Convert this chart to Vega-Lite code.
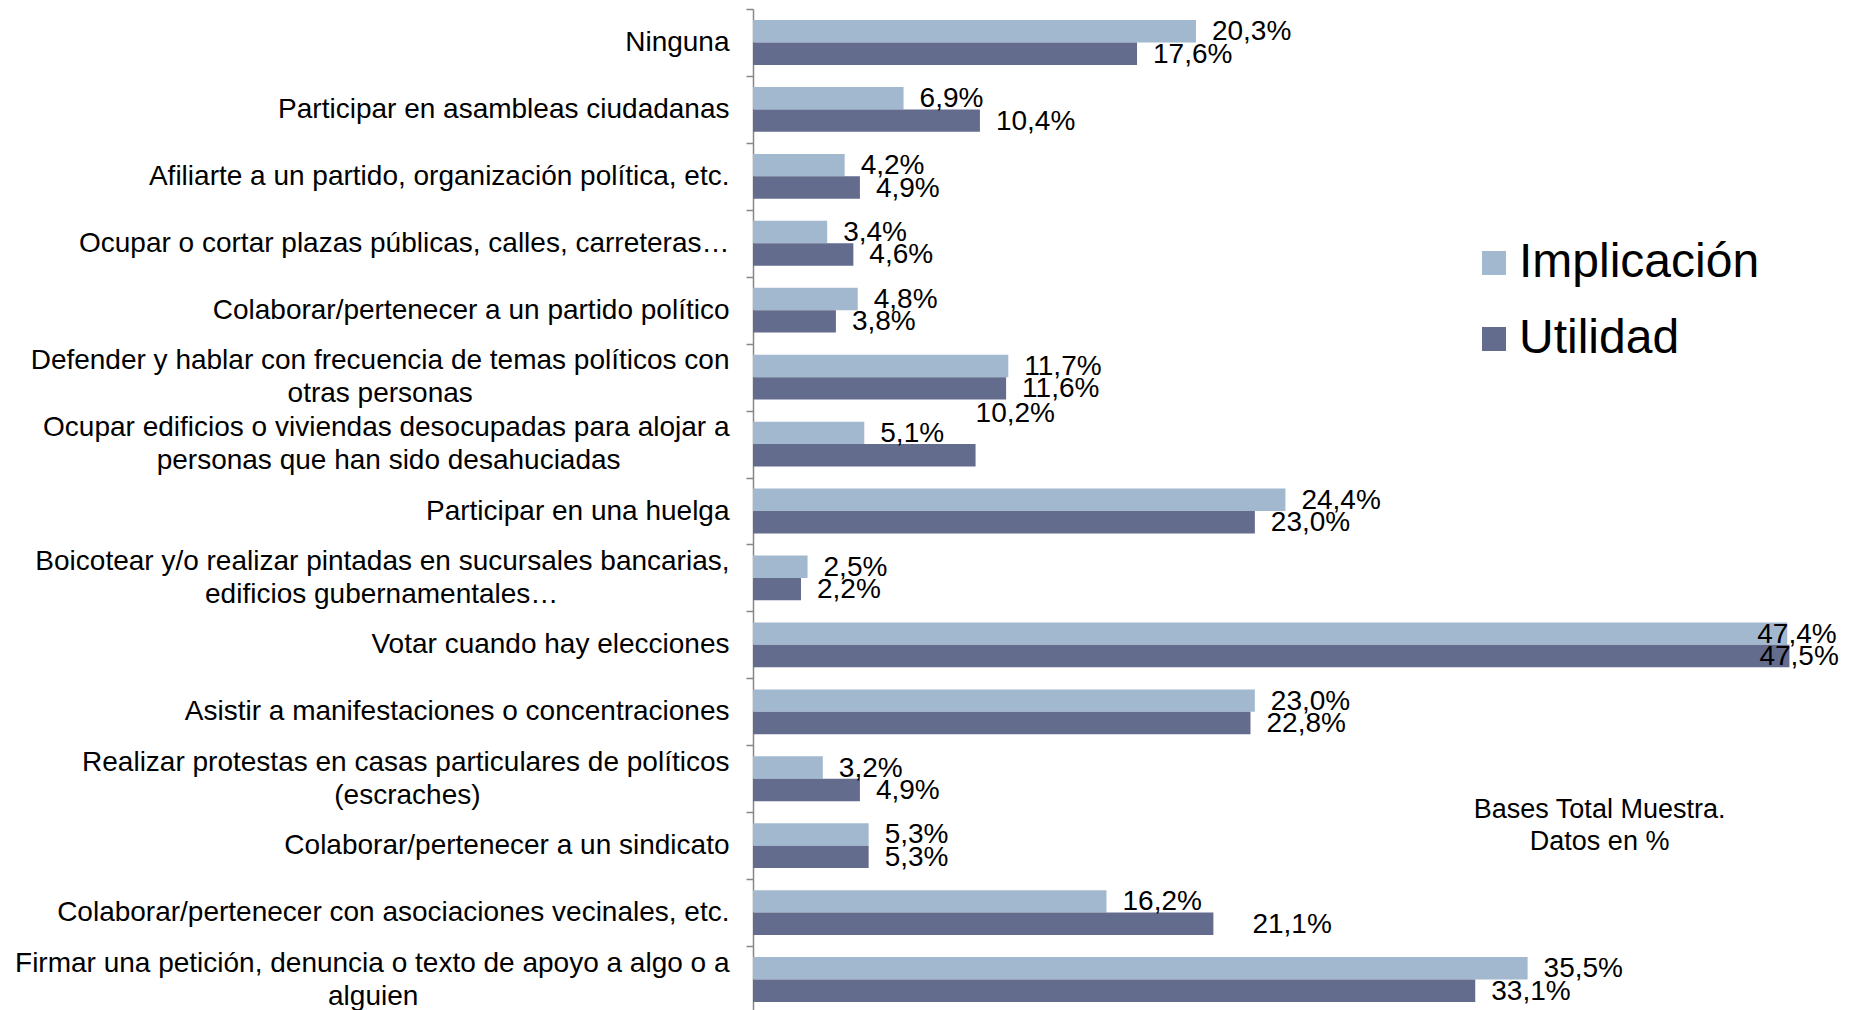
{
  "$schema": "https://vega.github.io/schema/vega-lite/v6.json",
  "width": 1854,
  "height": 1004,
  "autosize": {"type": "fit-x", "contains": "padding"},
  "padding": {"left": 14, "top": 8, "right": 10, "bottom": 0},
  "background": "white",
  "config": {
    "view": {"stroke": null},
    "font": "Liberation Sans",
    "locale": {"number": {"decimal": ",", "thousands": ".", "grouping": [3], "currency": ["", " €"]}}
  },
  "layer": [
    {
      "data": {
        "values": [
          {"c": "Ninguna", "s": "Implicación", "v": 0.203},
          {"c": "Ninguna", "s": "Utilidad", "v": 0.176},
          {"c": "Participar en asambleas ciudadanas", "s": "Implicación", "v": 0.069},
          {"c": "Participar en asambleas ciudadanas", "s": "Utilidad", "v": 0.104},
          {"c": "Afiliarte a un partido, organización política, etc.", "s": "Implicación", "v": 0.042},
          {"c": "Afiliarte a un partido, organización política, etc.", "s": "Utilidad", "v": 0.049},
          {"c": "Ocupar o cortar plazas públicas, calles, carreteras…", "s": "Implicación", "v": 0.034},
          {"c": "Ocupar o cortar plazas públicas, calles, carreteras…", "s": "Utilidad", "v": 0.046},
          {"c": "Colaborar/pertenecer a un partido político", "s": "Implicación", "v": 0.048},
          {"c": "Colaborar/pertenecer a un partido político", "s": "Utilidad", "v": 0.038},
          {"c": "Defender y hablar con frecuencia de temas políticos con|otras personas", "s": "Implicación", "v": 0.117},
          {"c": "Defender y hablar con frecuencia de temas políticos con|otras personas", "s": "Utilidad", "v": 0.116},
          {"c": "Ocupar edificios o viviendas desocupadas para alojar a|personas que han sido desahuciadas", "s": "Implicación", "v": 0.051},
          {"c": "Ocupar edificios o viviendas desocupadas para alojar a|personas que han sido desahuciadas", "s": "Utilidad", "v": 0.102},
          {"c": "Participar en una huelga", "s": "Implicación", "v": 0.244},
          {"c": "Participar en una huelga", "s": "Utilidad", "v": 0.230},
          {"c": "Boicotear y/o realizar pintadas en sucursales bancarias,|edificios gubernamentales…", "s": "Implicación", "v": 0.025},
          {"c": "Boicotear y/o realizar pintadas en sucursales bancarias,|edificios gubernamentales…", "s": "Utilidad", "v": 0.022},
          {"c": "Votar cuando hay elecciones", "s": "Implicación", "v": 0.474},
          {"c": "Votar cuando hay elecciones", "s": "Utilidad", "v": 0.475},
          {"c": "Asistir a manifestaciones o concentraciones", "s": "Implicación", "v": 0.230},
          {"c": "Asistir a manifestaciones o concentraciones", "s": "Utilidad", "v": 0.228},
          {"c": "Realizar protestas en casas particulares de políticos|(escraches)", "s": "Implicación", "v": 0.032},
          {"c": "Realizar protestas en casas particulares de políticos|(escraches)", "s": "Utilidad", "v": 0.049},
          {"c": "Colaborar/pertenecer a un sindicato", "s": "Implicación", "v": 0.053},
          {"c": "Colaborar/pertenecer a un sindicato", "s": "Utilidad", "v": 0.053},
          {"c": "Colaborar/pertenecer con asociaciones vecinales, etc.", "s": "Implicación", "v": 0.162},
          {"c": "Colaborar/pertenecer con asociaciones vecinales, etc.", "s": "Utilidad", "v": 0.211},
          {"c": "Firmar una petición, denuncia o texto de apoyo a algo o a|alguien", "s": "Implicación", "v": 0.355},
          {"c": "Firmar una petición, denuncia o texto de apoyo a algo o a|alguien", "s": "Utilidad", "v": 0.331}
        ]
      },
      "encoding": {
        "y": {
          "field": "c",
          "type": "nominal",
          "sort": null,
          "scale": {"paddingInner": 0.33, "paddingOuter": 0.165},
          "axis": {
            "title": null,
            "domainColor": "#878787",
            "domainWidth": 1.5,
            "tickColor": "#878787",
            "tickWidth": 1.5,
            "tickSize": 7,
            "tickOffset": -33.47,
            "labelOffset": {"condition": {"test": "indexof(datum.value,'|') >= 0", "value": 16.97}, "value": 33.47},
            "labelFont": "Liberation Sans",
            "labelFontSize": 28,
            "labelColor": "black",
            "labelPadding": 17,
            "labelLimit": 900,
            "labelLineHeight": 33,
            "labelExpr": "indexof(datum.value,'|') < 0 ? datum.value : [split(datum.value,'|')[0], split(datum.value,'|')[1] + pad('', indexof(datum.value,'Defender') == 0 ? 33 : indexof(datum.value,'Ocupar edificios') == 0 ? 14 : indexof(datum.value,'Boicotear') == 0 ? 22 : indexof(datum.value,'Realizar') == 0 ? 32 : 40, '\u00a0') + '\u200B']"
          }
        },
        "yOffset": {"field": "s", "type": "nominal", "sort": ["Implicación", "Utilidad"]},
        "x": {"field": "v", "type": "quantitative", "scale": {"domain": [0, 0.5], "nice": false}, "axis": null}
      },
      "layer": [
        {
          "mark": {"type": "bar"},
          "encoding": {
            "color": {
              "field": "s",
              "type": "nominal",
              "sort": ["Implicación", "Utilidad"],
              "scale": {"domain": ["Implicación", "Utilidad"], "range": ["#A2B8CE", "#646C8E"]},
              "legend": {
                "orient": "none",
                "legendX": 717,
                "legendY": 230,
                "title": null,
                "padding": 0,
                "labelFont": "Liberation Sans",
                "labelFontSize": 48,
                "labelColor": "black",
                "labelOffset": 1,
                "labelLimit": 500,
                "symbolType": "square",
                "symbolSize": 576,
                "symbolStrokeWidth": 0,
                "symbolOpacity": 1,
                "rowPadding": 28
              }
            }
          }
        },
        {
          "transform": [{"filter": "!((datum.s == 'Utilidad' && (datum.v == 0.102 || datum.v == 0.211)) || datum.v >= 0.47)"}],
          "mark": {"type": "text", "align": "left", "baseline": "middle", "dx": 16, "dy": 1, "fontSize": 28, "font": "Liberation Sans", "color": "black"},
          "encoding": {"text": {"field": "v", "type": "quantitative", "format": ".1%"}}
        },
        {
          "transform": [{"filter": "datum.s == 'Utilidad' && datum.v == 0.102"}],
          "mark": {"type": "text", "align": "left", "baseline": "middle", "dx": 0, "dy": -41, "fontSize": 28, "font": "Liberation Sans", "color": "black"},
          "encoding": {"text": {"field": "v", "type": "quantitative", "format": ".1%"}}
        },
        {
          "transform": [{"filter": "datum.s == 'Utilidad' && datum.v == 0.211"}],
          "mark": {"type": "text", "align": "left", "baseline": "middle", "dx": 39, "dy": 1, "fontSize": 28, "font": "Liberation Sans", "color": "black"},
          "encoding": {"text": {"field": "v", "type": "quantitative", "format": ".1%"}}
        },
        {
          "transform": [{"filter": "datum.v >= 0.47"}],
          "mark": {"type": "text", "align": "left", "baseline": "middle", "dx": -30, "dy": 1, "fontSize": 28, "font": "Liberation Sans", "color": "black"},
          "encoding": {"text": {"field": "v", "type": "quantitative", "format": ".1%"}}
        }
      ]
    },
    {
      "data": {"values": [{}]},
      "mark": {"type": "text", "align": "center", "baseline": "middle", "dy": -36, "fontSize": 27, "lineHeight": 32, "font": "Liberation Sans", "color": "black"},
      "encoding": {
        "x": {"datum": 0.388, "type": "quantitative"},
        "y": {"datum": "Colaborar/pertenecer a un sindicato", "type": "nominal"},
        "text": {"value": ["Bases Total Muestra.", "Datos en %"]}
      }
    }
  ]
}
